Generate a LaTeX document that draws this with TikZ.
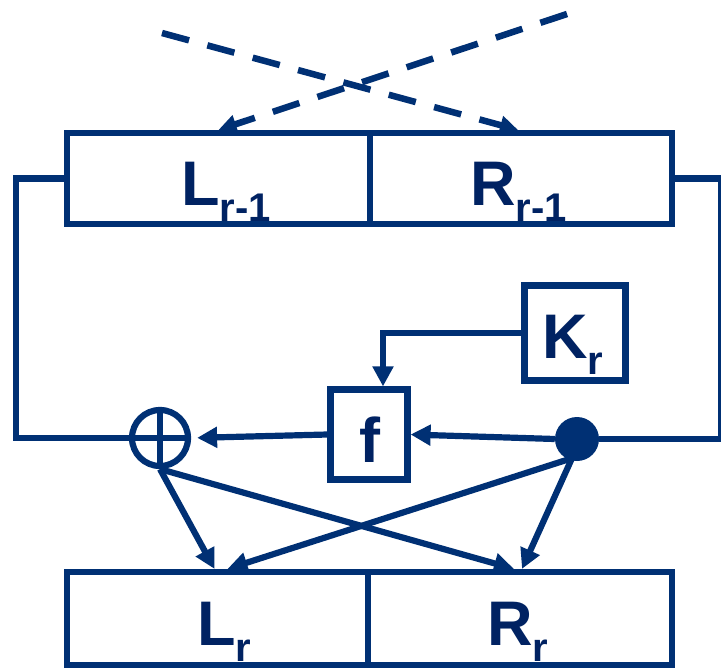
\documentclass[tikz,border=0pt]{standalone}
\usepackage{fontspec}
\setmainfont{Liberation Sans}
\usetikzlibrary{arrows.meta}
\definecolor{navy}{RGB}{0,48,116}
\definecolor{navytxt}{RGB}{0,34,98}
\newcommand\subs[1]{\raisebox{-16pt}{\fontsize{40}{40}\selectfont #1}}
\begin{document}
\begin{tikzpicture}[x=1pt,y=-1pt,
  ln/.style={draw=navy,line width=6.2pt},
  arr/.style={ln,-{Triangle[length=20pt,width=20pt]}},
  darr/.style={draw=navy,line width=6.5pt,dash pattern=on 28pt off 19pt,-{Triangle[length=18pt,width=18pt]}},
  box/.style={draw=navy,line width=6.2pt,rectangle,inner sep=0pt},
  lbl/.style={inner sep=0pt,anchor=base west,text=navytxt,font=\bfseries\fontsize{63}{63}\selectfont}]
\useasboundingbox (0,0) rectangle (721,670);
% top register
\node[box,minimum width=303pt,minimum height=91pt] (L1) at (218.5,178.5) {};
\node[box,minimum width=302pt,minimum height=91pt] (R1) at (521,178.5) {};
% bottom register
\node[box,minimum width=301pt,minimum height=93pt] (L2) at (217.5,618.5) {};
\node[box,minimum width=304pt,minimum height=93pt] (R2) at (520,618.5) {};
% function and key
\node[box,minimum width=77pt,minimum height=90pt] (f) at (369,434.5) {};
\node[box,minimum width=101pt,minimum height=95pt] (K) at (575,333) {};
% xor and split point
\node[draw=navy,line width=6.2pt,circle,minimum size=56pt,inner sep=0pt] (xor) at (160,438) {};
\draw[ln] (xor.north) -- (xor.south) (xor.west) -- (xor.east);
\node[fill=navy,circle,minimum size=44pt,inner sep=0pt] (dot) at (577,439) {};
% labels
\node[lbl] (tL1) at (181,205) {L\subs{r-1}};
\node[lbl] (tR1) at (470,205) {R\subs{r-1}};
\node[lbl] (tL2) at (197,645) {L\subs{r}};
\node[lbl] (tR2) at (487,645) {R\subs{r}};
\node[lbl] (tK) at (542,358) {K\subs{r}};
\node[lbl] (tf) at (359,462) {f};
% dashed crossing inputs
\coordinate (sA) at (162,33);
\coordinate (sB) at (567,14);
\draw[darr] (sA) -- ([xshift=-3pt]R1.north);
\draw[darr] (sB) -- (L1.north);
% feedback lines
\draw[ln] (L1.west) -- ++(-48,0) |- (xor.west);
\draw[ln] (R1.east) -- ++(46,0) |- (dot.east);
% round function
\draw[arr] (dot.west) -- (f.east);
\draw[arr,shorten >=6pt] (f.west) -- (xor.east);
\draw[arr] (K.west) -| ([xshift=14pt]f.north);
% outputs
\draw[arr] (xor.south) -- ([xshift=-3pt]L2.north);
\draw[arr] (xor.south) -- ([xshift=-6pt]R2.north);
\draw[arr] ([xshift=-5pt,yshift=3pt]dot.south) -- ([xshift=10pt]L2.north);
\draw[arr] ([xshift=-5pt,yshift=3pt]dot.south) -- ([xshift=2pt]R2.north);
\end{tikzpicture}
\end{document}
